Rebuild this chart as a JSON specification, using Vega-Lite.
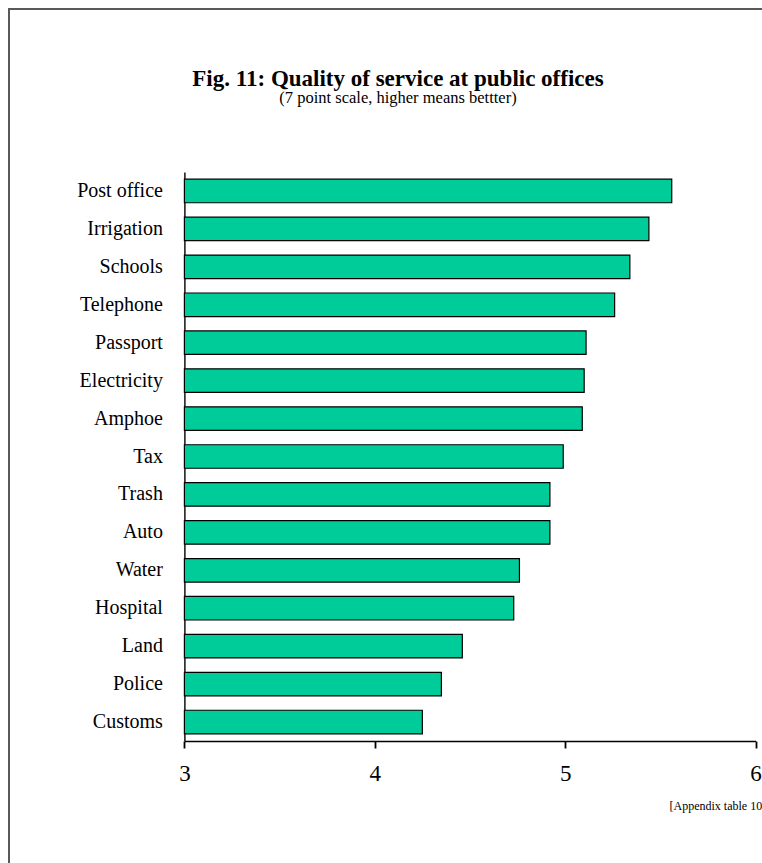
{
  "$schema": "https://vega.github.io/schema/vega-lite/v6.json",
  "width": 756,
  "height": 857,
  "autosize": {"type": "none"},
  "padding": {"left": 9, "top": 9, "right": 0, "bottom": 0},
  "background": "white",
  "title": {
    "text": "Fig. 11: Quality of service at public offices",
    "subtitle": "(7 point scale, higher means bettter)",
    "font": "Liberation Serif",
    "fontSize": 23,
    "fontWeight": "bold",
    "color": "black",
    "subtitleFont": "Liberation Serif",
    "subtitleFontSize": 16.5,
    "subtitleColor": "black",
    "subtitlePadding": -1,
    "anchor": "middle",
    "dx": 11,
    "offset": -97
  },
  "config": {"view": {"stroke": "#595959", "strokeWidth": 2}},
  "data": {
    "values": [
      {"office": "Post office", "score": 5.56},
      {"office": "Irrigation", "score": 5.44},
      {"office": "Schools", "score": 5.34},
      {"office": "Telephone", "score": 5.26},
      {"office": "Passport", "score": 5.11},
      {"office": "Electricity", "score": 5.10},
      {"office": "Amphoe", "score": 5.09},
      {"office": "Tax", "score": 4.99},
      {"office": "Trash", "score": 4.92},
      {"office": "Auto", "score": 4.92},
      {"office": "Water", "score": 4.76},
      {"office": "Hospital", "score": 4.73},
      {"office": "Land", "score": 4.46},
      {"office": "Police", "score": 4.35},
      {"office": "Customs", "score": 4.25}
    ]
  },
  "mark": {"type": "bar", "fill": "#00CC99", "stroke": "black", "strokeWidth": 1.2},
  "encoding": {
    "y": {
      "field": "office",
      "type": "nominal",
      "sort": null,
      "scale": {"range": [163, 732], "paddingInner": 0.38, "paddingOuter": 0.19},
      "axis": {
        "title": null,
        "offset": -175.4,
        "ticks": false,
        "domainColor": "black",
        "domainWidth": 1.4,
        "labelFont": "Liberation Serif",
        "labelFontSize": 20,
        "labelColor": "black",
        "labelPadding": 22
      }
    },
    "x": {
      "field": "score",
      "type": "quantitative",
      "scale": {"domain": [3, 6], "range": [175.4, 746.5], "nice": false, "zero": false},
      "axis": {
        "values": [3, 4, 5, 6],
        "grid": false,
        "offset": -125,
        "tickSize": 7,
        "tickColor": "black",
        "tickWidth": 1.8,
        "domainColor": "black",
        "domainWidth": 1.5,
        "labelFont": "Liberation Serif",
        "labelFontSize": 23,
        "labelColor": "black",
        "labelPadding": 14,
        "labelFlush": false,
        "title": "[Appendix table 10]",
        "titleFont": "Liberation Serif",
        "titleFontSize": 12,
        "titleFontWeight": "normal",
        "titleColor": "black",
        "titleX": 660,
        "titleY": 64,
        "titleAlign": "left",
        "titleBaseline": "middle"
      }
    },
    "x2": {"datum": 3}
  }
}
